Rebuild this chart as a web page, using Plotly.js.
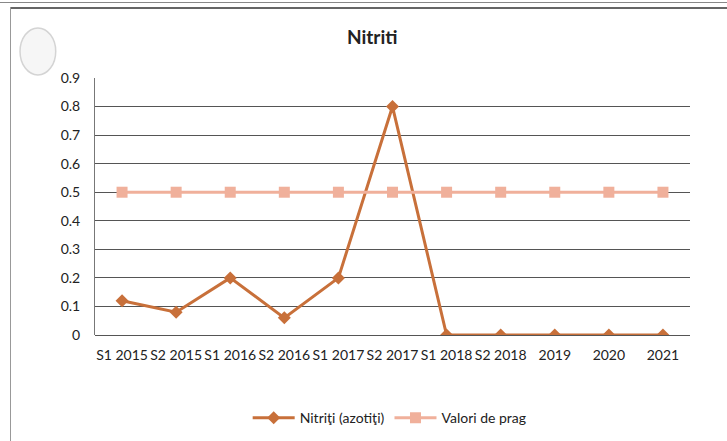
<!DOCTYPE html>
<html>
<head>
<meta charset="utf-8">
<script src="https://cdn.plot.ly/plotly-3.0.1.min.js"></script>
<style>
html,body{margin:0;padding:0;background:#fff;}
#chart{position:absolute;left:0;top:0;width:727px;height:441px;}
#topline1{position:absolute;left:0;top:2px;width:727px;height:0;border-top:1px solid #888;}
#topline2{position:absolute;left:10px;top:7px;width:717px;height:0;border-top:2px solid #666;}
#leftline{position:absolute;left:10px;top:7px;width:0;height:434px;border-left:1px solid #999;}
</style>
</head>
<body>
<div id="chart"></div>
<div id="topline1"></div>
<div id="topline2"></div>
<div id="leftline"></div>
<script>
const categories = ["S1 2015","S2 2015","S1 2016","S2 2016","S1 2017","S2 2017","S1 2018","S2 2018","2019","2020","2021"];
const nitriti = [0.12, 0.08, 0.2, 0.06, 0.2, 0.8, 0, 0, 0, 0, 0];
const valoriPrag = [0.5, 0.5, 0.5, 0.5, 0.5, 0.5, 0.5, 0.5, 0.5, 0.5, 0.5];
const yTicks = [0, 0.1, 0.2, 0.3, 0.4, 0.5, 0.6, 0.7, 0.8, 0.9];
const yTickText = ["0", "0.1", "0.2", "0.3", "0.4", "0.5", "0.6", "0.7", "0.8", "0.9"];

const font = "Lato, 'Open Sans', sans-serif";

const traces = [
  {
    x: categories, y: nitriti, type: "scatter", mode: "lines+markers",
    name: "Nitriţi (azotiţi)",
    line: {color: "#c8703a", width: 3},
    marker: {symbol: "diamond", size: 10, color: "#c8703a"}
  },
  {
    x: categories, y: valoriPrag, type: "scatter", mode: "lines+markers",
    name: "Valori de prag",
    line: {color: "#f0b09b", width: 3},
    marker: {symbol: "square", size: 11, color: "#f0b09b"}
  }
];

const layout = {
  width: 727, height: 441,
  margin: {l: 95, r: 37, t: 78, b: 106},
  paper_bgcolor: "#fff", plot_bgcolor: "#fff",
  font: {family: font, size: 14, color: "#222"},
  title: {text: "<b>Nitriti</b>", font: {family: font, size: 19, color: "#222"}, x: 0.512, xanchor: "center", y: 0.915, yanchor: "middle"},
  xaxis: {
    type: "category", range: [-0.5, 10.5],
    showgrid: false, showline: false, zeroline: false,
    ticks: "", tickfont: {family: font, size: 14, color: "#222"},
    ticklabelstandoff: 10,
    automargin: false, fixedrange: true
  },
  yaxis: {
    range: [0, 0.9], tickvals: yTicks, ticktext: yTickText,
    showgrid: true, gridcolor: "#555", gridwidth: 1,
    zeroline: true, zerolinecolor: "#555", zerolinewidth: 1,
    showline: true, linecolor: "#777", linewidth: 1,
    ticks: "", ticklen: 0, tickfont: {family: font, size: 14, color: "#222"},
    ticklabelstandoff: 11,
    automargin: false, fixedrange: true
  },
  showlegend: true,
  legend: {
    orientation: "h", xref: "container", yref: "container",
    x: 0.536, xanchor: "center", y: 0.052, yanchor: "middle",
    itemwidth: 42,
    font: {family: font, size: 14, color: "#222"}, traceorder: "normal"
  },
  shapes: [
    {type: "circle", xref: "paper", yref: "paper", x0: -0.126, x1: -0.066, y0: 1.012, y1: 1.195,
     fillcolor: "#f6f6f6", line: {color: "#d4d4d4", width: 1.5}}
  ]
};

Plotly.newPlot("chart", traces, layout, {displayModeBar: false, staticPlot: true});
</script>
</body>
</html>
